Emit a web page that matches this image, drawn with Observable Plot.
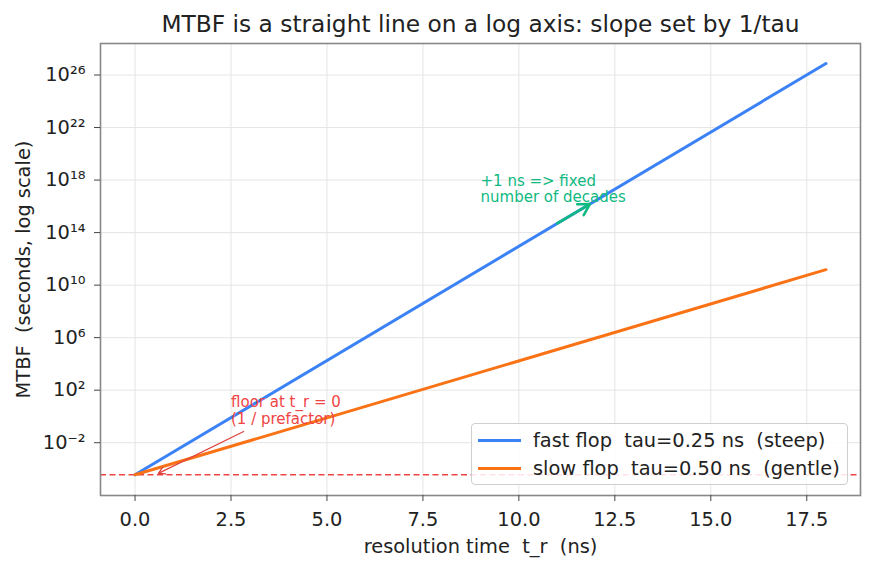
<!DOCTYPE html>
<html>
<head>
<meta charset="utf-8">
<script src="https://cdn.jsdelivr.net/npm/d3@7"></script>
<script src="https://cdn.jsdelivr.net/npm/@observablehq/plot@0.6"></script>
<style>
  html, body { margin: 0; padding: 0; background: #fff; }
  #chart { position: relative; width: 873px; height: 570px; font-family: "DejaVu Sans", sans-serif; }
  #chart svg text { white-space: pre; }
  .legend {
    position: absolute; left: 471px; top: 423px; width: 377px; height: 62px;
    border: 1px solid #cfcfcf; border-radius: 4px; background: rgba(255,255,255,0.85);
    box-sizing: border-box; font-size: 19.4px; color: #222;
  }
  .legend .row { position: absolute; left: 0; height: 23px; line-height: 23px; white-space: pre; }
  .legend .swatch { position: absolute; left: 6px; top: 10px; width: 43px; height: 3px; }
  .legend .label { position: absolute; left: 61px; top: 0; }
</style>
</head>
<body>
<div id="chart"></div>
<script>
// Resolution time (ns) at the two ends of each line
const resolutionTime = [0, 18];
// MTBF (seconds) at those ends
const fastMTBF = [3.6e-5, 7.5e26];
const slowMTBF = [3.6e-5, 1.5e11];
const seriesNames = ["fast flop  tau=0.25 ns  (steep)", "slow flop  tau=0.50 ns  (gentle)"];
const seriesColors = ["#3b82f6", "#f97316"];

// MTBF at t_r = 0 (1 / prefactor)
const floorValue = 3.6e-5;

const xTicks = [0, 2.5, 5, 7.5, 10, 12.5, 15, 17.5];
const yTicks = [1e-2, 1e2, 1e6, 1e10, 1e14, 1e18, 1e22, 1e26];

const decadeNote = {text: "+1 ns => fixed\nnumber of decades", x: 9, y: 2.9e18};
const decadeArrow = {x1: 11, y1: 5e14, x2: 11.85, y2: 1.5e16};
const floorNote = {text: "floor at t_r = 0\n(1 / prefactor)", x: 2.5, y: 44};
const floorArrow = {x1: 2.83, y1: 0.071, x2: 0.61, y2: 4.6e-5};

const titleText = "MTBF is a straight line on a log axis: slope set by 1/tau";
const xLabel = "resolution time  t_r  (ns)";
const yLabel = "MTBF  (seconds, log scale)";

const fastRows = resolutionTime.map((t, i) => ({t, mtbf: fastMTBF[i]}));
const slowRows = resolutionTime.map((t, i) => ({t, mtbf: slowMTBF[i]}));

const sup = {"0":"⁰","1":"¹","2":"²","3":"³","4":"⁴","5":"⁵","6":"⁶","7":"⁷","8":"⁸","9":"⁹","-":"⁻"};
const powerLabel = d => "10" + String(Math.round(Math.log10(d))).replace(/./g, c => sup[c]);

const red = "#ef4444";
const green = "#10b981";

const chart = Plot.plot({
  width: 873,
  height: 570,
  marginLeft: 100,
  marginRight: 13,
  marginTop: 43,
  marginBottom: 75,
  style: {fontFamily: '"DejaVu Sans", sans-serif', fontSize: "19.4px", color: "#222", background: "transparent"},
  x: {domain: [-0.9, 18.9]},
  y: {type: "log", domain: [Math.pow(10, -6.02), Math.pow(10, 28.4)]},
  marks: [
    Plot.gridX(xTicks, {stroke: "#e2e2e2", strokeOpacity: 1, strokeWidth: 0.9}),
    Plot.gridY(yTicks, {stroke: "#e2e2e2", strokeOpacity: 1, strokeWidth: 0.9}),
    Plot.ruleY([floorValue], {stroke: red, strokeWidth: 1.5, strokeDasharray: "6,3.5"}),
    Plot.line(fastRows, {x: "t", y: "mtbf", stroke: seriesColors[0], strokeWidth: 3}),
    Plot.line(slowRows, {x: "t", y: "mtbf", stroke: seriesColors[1], strokeWidth: 3}),
    Plot.arrow([decadeArrow], {x1: "x1", y1: "y1", x2: "x2", y2: "y2", stroke: green, strokeWidth: 2.6, headLength: 9}),
    Plot.text([decadeNote], {x: "x", y: "y", text: "text", textAnchor: "start", lineAnchor: "top", fill: green, fontSize: 15, lineHeight: 1.1}),
    Plot.arrow([floorArrow], {x1: "x1", y1: "y1", x2: "x2", y2: "y2", stroke: "#e0403c", strokeWidth: 1.2, headLength: 9}),
    Plot.text([floorNote], {x: "x", y: "y", text: "text", textAnchor: "start", lineAnchor: "top", fill: red, fontSize: 15, lineHeight: 1.15}),
    Plot.frame({stroke: "#888", strokeWidth: 1.6}),
    Plot.axisX(xTicks, {tickFormat: d => d.toFixed(1), tickSize: 6, tickPadding: 11, label: null, stroke: "#444", fill: "#222", fontSize: 19.4}),
    Plot.axisY(yTicks, {tickFormat: powerLabel, tickSize: 6, tickPadding: 9, label: null, stroke: "#444", fill: "#222", fontSize: 19.4}),
    Plot.text([xLabel], {frameAnchor: "bottom", dy: 57, lineAnchor: "bottom", textAnchor: "middle", fontSize: 19.4, fill: "#222"}),
    Plot.text([yLabel], {frameAnchor: "left", rotate: -90, dx: -71, lineAnchor: "bottom", textAnchor: "middle", fontSize: 19.4, fill: "#222"}),
    Plot.text([titleText], {frameAnchor: "top", dy: -12, lineAnchor: "bottom", textAnchor: "middle", fontSize: 23.3, fill: "#222"})
  ]
});

const root = document.getElementById("chart");
root.appendChild(chart);

// Legend box built from the series names and colours
const legend = document.createElement("div");
legend.className = "legend";
seriesNames.forEach((name, i) => {
  const row = document.createElement("div");
  row.className = "row";
  row.style.top = (5 + i * 28) + "px";
  row.style.width = "100%";
  const sw = document.createElement("span");
  sw.className = "swatch";
  sw.style.background = seriesColors[i];
  const lb = document.createElement("span");
  lb.className = "label";
  lb.textContent = name;
  row.appendChild(sw);
  row.appendChild(lb);
  legend.appendChild(row);
});
root.appendChild(legend);
</script>
</body>
</html>
